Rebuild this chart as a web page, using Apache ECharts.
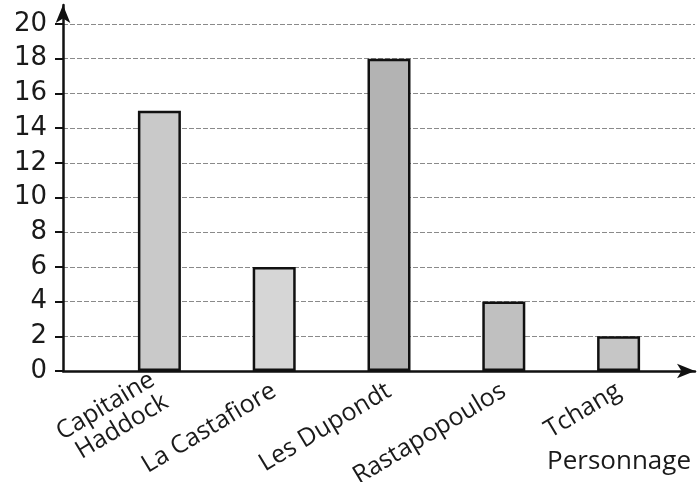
<!DOCTYPE html>
<html>
<head>
<meta charset="utf-8">
<script src="https://cdn.jsdelivr.net/npm/echarts@6/dist/echarts.min.js"></script>
<style>
  html, body { margin: 0; padding: 0; background: #fff; }
  #chart { width: 698px; height: 482px; }
</style>
</head>
<body>
<div id="chart"></div>
<script>
const categories = ['Capitaine\nHaddock', 'La Castafiore', 'Les Dupondt', 'Rastapopoulos', 'Tchang']
const counts = [15, 6, 18, 4, 2]
const barColors = ['#c9c9c9', '#d6d6d6', '#b3b3b3', '#c0c0c0', '#c6c6c6']
const yMin = 0
const yMax = 20
const yStep = 2
const xTitle = 'Personnage'

const chart = echarts.init(document.getElementById('chart'))

const TOP = 24
const BOTTOM = 111
const labelFont = '"Open Sans", "DejaVu Sans", sans-serif'

chart.setOption({
  backgroundColor: '#fff',
  animation: false,
  title: {
    text: xTitle,
    right: 2,
    top: 444,
    textStyle: { fontFamily: labelFont, fontSize: 26, fontWeight: 'normal', color: '#1a1a1a' }
  },
  grid: [
    // cadre : graduations, étiquettes, lignes de grille, flèche de l'axe x
    { left: 63, right: 3, top: TOP, bottom: BOTTOM, outerBoundsMode: 'none' },
    // flèche de l'axe y
    { left: 63, width: 1, top: 5, bottom: BOTTOM, outerBoundsMode: 'none' },
    // barres
    { left: 102, right: 22, top: TOP, bottom: BOTTOM, outerBoundsMode: 'none' }
  ],
  xAxis: [
    {
      gridIndex: 0, type: 'value', min: 0, max: 1,
      axisLine: { show: true, symbol: ['none', 'arrow'], symbolSize: [11, 18], lineStyle: { color: '#111', width: 2.5 } },
      axisTick: { show: false }, axisLabel: { show: false }, splitLine: { show: false }
    },
    {
      gridIndex: 1, type: 'value', min: 0, max: 1, show: false
    },
    {
      gridIndex: 2, type: 'category', data: categories,
      axisLine: { show: false }, axisTick: { show: false },
      axisLabel: {
        rotate: 31, margin: 18, color: '#1a1a1a', fontSize: 25, fontFamily: labelFont,
        lineHeight: 26, interval: 0, align: 'right'
      }
    }
  ],
  yAxis: [
    {
      gridIndex: 0, type: 'value', min: yMin, max: yMax, interval: yStep,
      axisLine: { show: false },
      axisTick: { show: true, inside: false, length: 8, lineStyle: { color: '#111', width: 2 } },
      axisLabel: { margin: 16, color: '#1a1a1a', fontSize: 26, fontFamily: '"DejaVu Sans", sans-serif' },
      splitLine: { show: true, lineStyle: { color: '#8a8a8a', width: 1, type: [5, 2] } }
    },
    {
      gridIndex: 1, type: 'value', min: 0, max: 1,
      axisLine: { show: true, symbol: ['none', 'arrow'], symbolSize: [11, 18], lineStyle: { color: '#111', width: 2.5 } },
      axisTick: { show: false }, axisLabel: { show: false }, splitLine: { show: false }
    },
    {
      gridIndex: 2, type: 'value', min: yMin, max: yMax, interval: yStep, show: false
    }
  ],
  series: [{
    type: 'bar',
    xAxisIndex: 2,
    yAxisIndex: 2,
    barWidth: 43,
    data: counts.map((v, i) => ({
      value: v,
      itemStyle: { color: barColors[i] }
    })),
    itemStyle: { borderColor: '#111', borderWidth: 2.5 }
  }]
})
</script>
</body>
</html>
